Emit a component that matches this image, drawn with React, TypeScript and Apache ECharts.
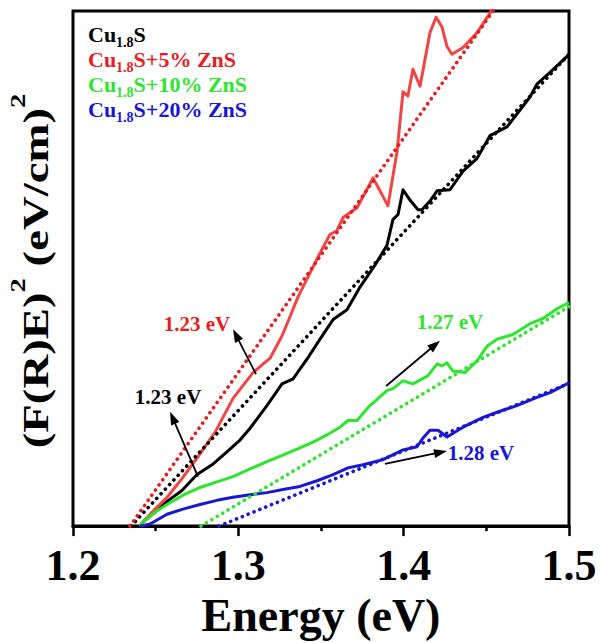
import React, { useEffect, useRef } from "react";
import * as echarts from "echarts";

const FONT = "Liberation Serif";

// Photon energy (eV) vs (F(R)E)^2 in arbitrary units (0–100)
const cu18S: [number, number][] = [
  [1.2405, 0], [1.2423, 0.8], [1.2496, 2.7], [1.2569, 4.8], [1.2659, 6.9], [1.275, 10.0],
  [1.2841, 11.9], [1.2931, 14.4], [1.301, 16.7], [1.3071, 19.0], [1.3173, 23.4], [1.3264, 27.6],
  [1.3331, 28.6], [1.3415, 32.4], [1.3494, 36.3], [1.3573, 40.1], [1.3657, 42.0], [1.3736, 46.4],
  [1.3827, 50.7], [1.3899, 54.5], [1.3935, 59.5], [1.3966, 60.5], [1.3996, 65.3], [1.4038, 63.3],
  [1.4087, 61.4], [1.4111, 61.4], [1.4159, 63.1], [1.4202, 65.1], [1.428, 65.3], [1.4359, 68.9],
  [1.4444, 71.4], [1.4522, 75.8], [1.4625, 77.5], [1.4685, 80.0], [1.4764, 83.3], [1.4806, 85.8],
  [1.4885, 88.1], [1.4988, 91.2], [1.5, 91.6],
];
const cu18S5: [number, number][] = [
  [1.2405, 0], [1.2423, 0.8], [1.2496, 3.3], [1.2569, 5.6], [1.2659, 9.2], [1.275, 13.2],
  [1.2859, 18.2], [1.2968, 24.8], [1.3089, 29.8], [1.3192, 32.6], [1.3264, 36.9], [1.3313, 40.7],
  [1.3361, 44.5], [1.3433, 49.1], [1.3494, 53.0], [1.3554, 56.6], [1.3597, 57.4], [1.3633, 59.9],
  [1.3718, 61.8], [1.3815, 67.6], [1.3905, 62.2], [1.396, 72.7], [1.3996, 84.3], [1.4026, 83.5],
  [1.4056, 88.7], [1.4099, 85.4], [1.4159, 95.8], [1.4196, 98.8], [1.4232, 96.9], [1.4262, 93.1],
  [1.4292, 91.6], [1.4359, 92.9], [1.4444, 95.8], [1.4522, 99.6], [1.4583, 103.1],
];
const cu18S10: [number, number][] = [
  [1.2405, 0], [1.2423, 0.8], [1.2496, 2.7], [1.2569, 4.2], [1.2665, 6.0], [1.2768, 7.5],
  [1.2871, 8.6], [1.2968, 9.6], [1.3071, 11.1], [1.3173, 12.5], [1.327, 13.8], [1.3373, 15.2],
  [1.3452, 16.3], [1.3536, 17.7], [1.3615, 19.2], [1.3663, 20.5], [1.3718, 20.5], [1.3796, 23.4],
  [1.3899, 26.3], [1.3935, 26.7], [1.3996, 28.2], [1.4057, 27.6], [1.4147, 29.2], [1.4202, 31.5],
  [1.4232, 31.1], [1.4262, 31.7], [1.4298, 30.1], [1.4371, 29.8], [1.4444, 32.1], [1.4504, 34.9],
  [1.4565, 36.3], [1.4661, 37.2], [1.4764, 39.3], [1.4843, 40.3], [1.4927, 42.2], [1.4988, 43.2],
  [1.5, 43.4],
];
const cu18S20: [number, number][] = [
  [1.2405, 0], [1.2466, 0.4], [1.2569, 2.3], [1.2665, 3.3], [1.2768, 4.2], [1.2871, 5.0],
  [1.2968, 5.6], [1.3071, 6.1], [1.3173, 6.5], [1.327, 7.1], [1.3373, 7.7], [1.3476, 8.8],
  [1.3573, 10.0], [1.3663, 11.3], [1.3754, 11.9], [1.3875, 12.9], [1.3996, 14.8], [1.4081, 15.4],
  [1.4117, 17.1], [1.4159, 18.6], [1.4208, 18.6], [1.4262, 17.3], [1.4359, 19.2], [1.448, 21.1],
  [1.4565, 22.1], [1.4685, 23.4], [1.4806, 25.0], [1.4885, 25.9], [1.4988, 27.6], [1.5, 27.8],
];

// Linear fits (Tauc extrapolation)
const fitCu18S: [number, number][] = [[1.2351, 0], [1.5, 91.6]];
const fitCu18S5: [number, number][] = [[1.2345, 0], [1.4541, 100]];
const fitCu18S10: [number, number][] = [[1.2774, 0], [1.5, 42.6]];
const fitCu18S20: [number, number][] = [[1.2883, 0], [1.5, 27.7]];

const xTicks = [1.2, 1.3, 1.4, 1.5];

const RED = "#e41e1e";
const RED_LINE = "#f04545";
const GREEN = "#2ee52e";
const BLUE = "#1818d2";

const legendItems = [
  { pre: "Cu", sub: "1.8", post: "S", color: "#000000" },
  { pre: "Cu", sub: "1.8", post: "S+5% ZnS", color: RED },
  { pre: "Cu", sub: "1.8", post: "S+10% ZnS", color: GREEN },
  { pre: "Cu", sub: "1.8", post: "S+20% ZnS", color: BLUE },
];

const gapLabels = [
  { text: "1.23 eV", color: RED, at: [1.275, 39.3], from: [1.3107, 29.5], to: [1.2968, 38.2] },
  { text: "1.23 eV", color: "#000000", at: [1.2575, 25.0], from: [1.2756, 9.6], to: [1.2587, 22.2] },
  { text: "1.27 eV", color: GREEN, at: [1.428, 39.7], from: [1.3894, 27.2], to: [1.422, 36.0] },
  { text: "1.28 eV", color: BLUE, at: [1.4468, 14.1], from: [1.3887, 12.1], to: [1.4262, 14.6] },
];

function solid(name: string, data: [number, number][], color: string) {
  return {
    name, type: "line", data, showSymbol: false, symbol: "none", clip: true,
    lineStyle: { color, width: 3, join: "round" }, z: 2,
  };
}
function dotted(name: string, data: [number, number][], color: string) {
  return {
    name, type: "line", data, showSymbol: false, symbol: "none", clip: true,
    lineStyle: { color, width: 3.6, type: [0.1, 6.2], cap: "round" }, z: 3,
  };
}

let measureCtx: CanvasRenderingContext2D | null = null;
function textWidth(text: string, size: number) {
  if (!measureCtx) measureCtx = document.createElement("canvas").getContext("2d");
  if (!measureCtx) return text.length * size * 0.5;
  measureCtx.font = `bold ${size}px "${FONT}"`;
  return measureCtx.measureText(text).width;
}

export default function App() {
  const ref = useRef<HTMLDivElement>(null);
  useEffect(() => {
    const el = ref.current;
    if (!el) return;
    const chart = echarts.init(el, null, { renderer: "svg" });
    chart.setOption({
      animation: false,
      backgroundColor: "#ffffff",
      grid: {
        left: 73, top: 11, right: 35, bottom: 113, show: true,
        borderColor: "#000", borderWidth: 3, backgroundColor: "transparent",
      },
      xAxis: {
        type: "value", min: 1.2, max: 1.5, interval: 0.1,
        name: "Energy (eV)", nameLocation: "middle", nameGap: 61,
        nameTextStyle: { fontSize: 46, fontWeight: "bold", fontFamily: FONT, color: "#000" },
        axisLine: { show: true, onZero: false, lineStyle: { color: "#000", width: 3 } },
        axisTick: { show: true, inside: false, length: 10, lineStyle: { color: "#000", width: 2.5 } },
        minorTick: { show: true, splitNumber: 2, length: 5, lineStyle: { color: "#000", width: 2.5 } },
        axisLabel: {
          fontSize: 44, fontWeight: "bold", fontFamily: FONT, color: "#000", margin: 17,
          showMinLabel: true, showMaxLabel: true,
          formatter: (v: number) => {
            const t = xTicks.find((k) => Math.abs(k - v) < 1e-6);
            return t !== undefined ? t.toFixed(1) : "";
          },
        },
        splitLine: { show: false }, minorSplitLine: { show: false },
      },
      yAxis: {
        type: "value", min: 0, max: 100,
        axisLine: { show: false }, axisTick: { show: false },
        axisLabel: { show: false }, splitLine: { show: false },
      },
      series: [
        solid("Cu1.8S", cu18S, "#000000"),
        solid("Cu1.8S+5% ZnS", cu18S5, RED_LINE),
        solid("Cu1.8S+10% ZnS", cu18S10, GREEN),
        solid("Cu1.8S+20% ZnS", cu18S20, BLUE),
        dotted("fit Cu1.8S", fitCu18S, "#000000"),
        dotted("fit Cu1.8S+5% ZnS", fitCu18S5, RED),
        dotted("fit Cu1.8S+10% ZnS", fitCu18S10, GREEN),
        dotted("fit Cu1.8S+20% ZnS", fitCu18S20, BLUE),
      ],
    });

    const graphics: any[] = [];
    const txt = (text: string, x: number, y: number, size: number, fill: string, extra: any = {}) => ({
      type: "text", x, y, z: 10, ...extra,
      style: {
        text, fill, fontSize: size, fontWeight: "bold", fontFamily: FONT,
        align: extra.align || "left", verticalAlign: "middle",
      },
    });

    // Legend (text only), subscripts placed manually
    const LS = 22, SS = 14;
    legendItems.forEach((it, i) => {
      const cy = 34.5 + i * 25;
      let x = 88;
      graphics.push(txt(it.pre, x, cy, LS, it.color));
      x += textWidth(it.pre, LS);
      graphics.push(txt(it.sub, x, cy + 8, SS, it.color));
      x += textWidth(it.sub, SS);
      graphics.push(txt(it.post, x, cy, LS, it.color));
    });

    // Y axis title, rotated, stretched along text direction
    const YS = 36, YP = 22, STRETCH = 1.3;
    const ySegs = [
      { t: "(F(R)E)", s: YS, off: 0 },
      { t: "2", s: YP, off: -18 },
      { t: " (eV/cm)", s: YS, off: 0 },
      { t: "2", s: YP, off: -18 },
    ];
    const total = ySegs.reduce((acc, sg) => acc + textWidth(sg.t, sg.s) * STRETCH, 0);
    let yPos = 271 + total / 2;
    ySegs.forEach((sg) => {
      graphics.push({
        type: "text", x: 36 + sg.off, y: yPos, rotation: Math.PI / 2, scaleX: STRETCH, z: 10,
        style: {
          text: sg.t, fill: "#000", fontSize: sg.s, fontWeight: "bold", fontFamily: FONT,
          align: "left", verticalAlign: "middle",
        },
      });
      yPos -= textWidth(sg.t, sg.s) * STRETCH;
    });

    // Band-gap annotations with arrows
    gapLabels.forEach((g) => {
      const p = chart.convertToPixel({ gridIndex: 0 }, g.at) as number[];
      const a = chart.convertToPixel({ gridIndex: 0 }, g.from) as number[];
      const b = chart.convertToPixel({ gridIndex: 0 }, g.to) as number[];
      const dx = b[0] - a[0], dy = b[1] - a[1];
      const len = Math.hypot(dx, dy);
      const ux = dx / len, uy = dy / len;
      const nx = -uy, ny = ux;
      const L = 13, W = 4.5;
      const bx = b[0] - ux * L, by = b[1] - uy * L;
      graphics.push({
        type: "line", z: 10,
        shape: { x1: a[0], y1: a[1], x2: bx + ux * 2, y2: by + uy * 2 },
        style: { stroke: "#000", lineWidth: 1.8 },
      });
      graphics.push({
        type: "polygon", z: 10,
        shape: { points: [[b[0], b[1]], [bx + nx * W, by + ny * W], [bx - nx * W, by - ny * W]] },
        style: { fill: "#000" },
      });
      graphics.push(txt(g.text, p[0], p[1], 21, g.color, { align: "center" }));
    });
    chart.setOption({ graphic: graphics });

    return () => chart.dispose();
  }, []);
  return (
    <div
      ref={ref}
      style={{ position: "fixed", left: 0, top: 0, width: 604, height: 643, background: "#fff" }}
    />
  );
}
